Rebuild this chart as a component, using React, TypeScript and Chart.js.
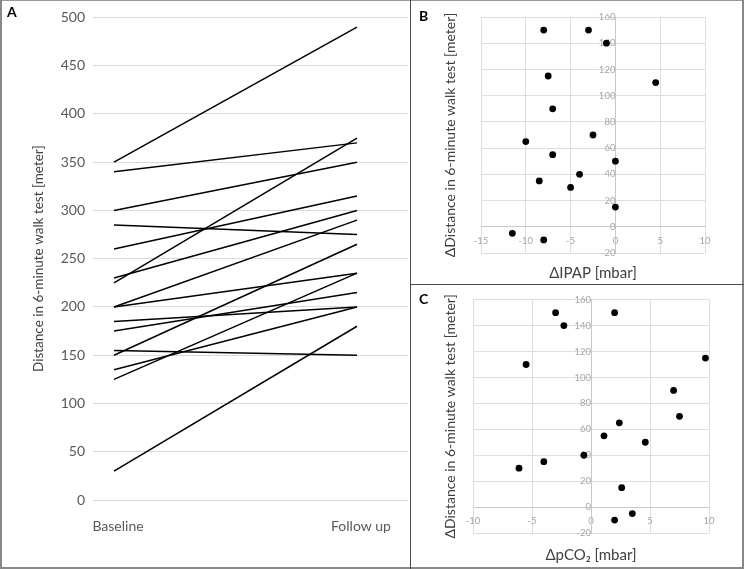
import React, { useEffect, useRef } from "react";
import { Chart, registerables } from "chart.js";

Chart.register(...registerables);

// ---------- DATA ----------
const categories = ["Baseline", "Follow up"];
const baselineDistance = [350, 340, 300, 285, 260, 230, 225, 200, 200, 185, 175, 155, 150, 135, 125, 30];
const followUpDistance = [490, 370, 350, 275, 315, 300, 375, 235, 290, 200, 215, 150, 265, 200, 235, 180];

const deltaIPAP = [-8, -3, -1, -7.5, 4.5, -7, -2.5, -10, -7, 0, -4, -8.5, -5, 0, -11.5, -8];
const deltaWalkB = [150, 150, 140, 115, 110, 90, 70, 65, 55, 50, 40, 35, 30, 15, -5, -10];

const deltaPCO2 = [-3, 2, -2.3, -5.5, 9.7, 7, 7.5, 2.4, 1.1, 4.6, -0.6, -4, -6.1, 2.6, 3.5, 2];
const deltaWalkC = [150, 150, 140, 110, 115, 90, 70, 65, 55, 50, 40, 35, 30, 15, -5, -10];

const FONT = "Lato, 'Open Sans', sans-serif";

function useChart(ref: React.RefObject<HTMLCanvasElement>, makeConfig: () => any) {
  useEffect(() => {
    if (!ref.current) return;
    const chart = new Chart(ref.current, makeConfig());
    return () => chart.destroy();
  }, []);
}

function configA() {
  return {
    type: "line",
    data: {
      datasets: baselineDistance.map((b, i) => ({
        data: [
          { x: 0, y: b },
          { x: 1, y: followUpDistance[i] },
        ],
        borderColor: "#000",
        borderWidth: 1.5,
        pointRadius: 0,
        fill: false,
        tension: 0,
      })),
    },
    options: {
      animation: false,
      responsive: false,
      maintainAspectRatio: false,
      layout: { padding: { top: 16, right: 2, bottom: 0, left: 0 } },
      plugins: { legend: { display: false }, tooltip: { enabled: false } },
      scales: {
        x: {
          type: "linear",
          min: -0.0864,
          max: 1.2099,
          afterBuildTicks: (s: any) => {
            s.ticks = categories.map((_, i) => ({ value: i }));
          },
          ticks: {
            callback: (v: any) => categories[v] ?? "",
            font: { family: FONT, size: 14 },
            color: "#595959",
            padding: 10,
            labelOffset: 4,
            maxRotation: 0,
            autoSkip: false,
          },
          grid: { display: false },
          border: { display: false },
          afterFit: (s: any) => {
            s.height = 67;
          },
        },
        y: {
          min: 0,
          max: 500,
          ticks: {
            stepSize: 50,
            font: { family: FONT, size: 14 },
            color: "#595959",
            padding: 8,
          },
          grid: { color: "#d9d9d9", drawTicks: false },
          border: { display: false },
          title: {
            display: true,
            text: "Distance in 6-minute walk test [meter]",
            font: { family: FONT, size: 13.5 },
            color: "#404040",
            padding: { top: 29, bottom: 0 },
          },
          afterFit: (s: any) => {
            s.width = 91;
          },
        },
      },
    },
  };
}

function scatterConfig(
  xs: number[],
  ys: number[],
  xMin: number,
  xMax: number,
  xTitle: string,
  pad: { top: number; right: number },
  yTitleWidth: number,
  xTitleHeight: number,
  xTitlePad: number
) {
  const tickFont = { family: FONT, size: 9.5 };
  return {
    type: "scatter",
    data: {
      datasets: [
        {
          data: xs.map((x, i) => ({ x, y: ys[i] })),
          backgroundColor: "#000",
          borderWidth: 0,
          pointRadius: 3.4,
        },
      ],
    },
    options: {
      animation: false,
      responsive: false,
      maintainAspectRatio: false,
      layout: { padding: { top: pad.top, right: pad.right, bottom: 0, left: 0 } },
      plugins: { legend: { display: false }, tooltip: { enabled: false } },
      scales: {
        x: {
          type: "linear",
          min: xMin,
          max: xMax,
          position: { y: 0 },
          ticks: { stepSize: 5, font: tickFont, color: "#a6a6a6", padding: 8 },
          grid: { color: "#dedede", drawTicks: false },
          border: { color: "#c8c8c8" },
        },
        y: {
          type: "linear",
          min: -20,
          max: 160,
          position: { x: 0 },
          ticks: { stepSize: 20, font: tickFont, color: "#a6a6a6", padding: 8 },
          grid: { color: "#dedede", drawTicks: false },
          border: { color: "#c8c8c8" },
        },
        yTitle: {
          axis: "y",
          type: "linear",
          position: "left",
          ticks: { display: false },
          grid: { display: false },
          border: { display: false },
          title: {
            display: true,
            text: "ΔDistance in 6-minute walk test [meter]",
            font: { family: FONT, size: 14 },
            color: "#404040",
            padding: { top: 31, bottom: 0 },
          },
          afterFit: (s: any) => {
            s.width = yTitleWidth;
          },
        },
        xTitle: {
          axis: "x",
          type: "linear",
          position: "bottom",
          ticks: { display: false },
          grid: { display: false },
          border: { display: false },
          title: {
            display: true,
            text: xTitle,
            font: { family: FONT, size: 15 },
            color: "#404040",
            padding: { top: 0, bottom: xTitlePad },
          },
          afterFit: (s: any) => {
            s.height = xTitleHeight;
          },
        },
      },
    },
  };
}

const line = (l: number, t: number, w: number, h: number, c: string) => (
  <div style={{ position: "absolute", left: l, top: t, width: w, height: h, background: c }} />
);

const letter = (txt: string, l: number, t: number) => (
  <div
    style={{
      position: "absolute",
      left: l,
      top: t,
      fontFamily: FONT,
      fontWeight: 700,
      fontSize: 14,
      lineHeight: "14px",
      color: "#000",
    }}
  >
    {txt}
  </div>
);

export default function App() {
  const refA = useRef<HTMLCanvasElement>(null);
  const refB = useRef<HTMLCanvasElement>(null);
  const refC = useRef<HTMLCanvasElement>(null);

  useChart(refA, configA);
  useChart(refB, () =>
    scatterConfig(deltaIPAP, deltaWalkB, -15, 10, "ΔIPAP [mbar]", { top: 16, right: 37 }, 70, 31, 2)
  );
  useChart(refC, () =>
    scatterConfig(deltaPCO2, deltaWalkC, -10, 10, "ΔpCO₂ [mbar]", { top: 9, right: 33 }, 62, 34, 3)
  );

  return (
    <div
      style={{
        position: "absolute",
        left: 0,
        top: 0,
        width: 744,
        height: 569,
        background: "#fff",
        overflow: "hidden",
      }}
    >
      <canvas ref={refA} width={408} height={566} style={{ position: "absolute", left: 2, top: 1, width: 408, height: 566 }} />
      <canvas ref={refB} width={331} height={283} style={{ position: "absolute", left: 411, top: 1, width: 331, height: 283 }} />
      <canvas ref={refC} width={331} height={281} style={{ position: "absolute", left: 411, top: 286, width: 331, height: 281 }} />
      {line(0, 0, 744, 1, "#9a9a9a")}
      {line(0, 0, 2, 569, "#888")}
      {line(742, 0, 2, 569, "#888")}
      {line(0, 567, 744, 2, "#888")}
      {line(410, 0, 1, 569, "#4a4a4a")}
      {line(410, 284, 334, 1, "#4a4a4a")}
      {letter("A", 7, 5)}
      {letter("B", 419, 9)}
      {letter("C", 419, 292)}
    </div>
  );
}
